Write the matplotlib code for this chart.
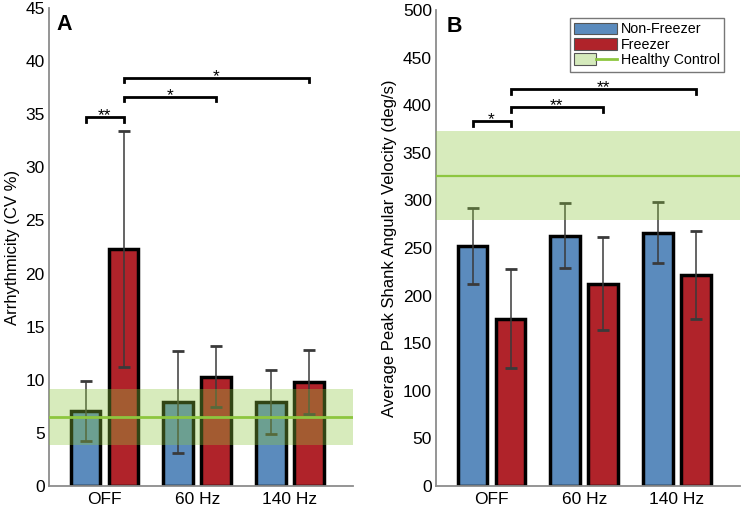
import numpy as np
import matplotlib
matplotlib.use('Agg')
import matplotlib.pyplot as plt
from matplotlib.patches import Patch
from matplotlib.lines import Line2D
from matplotlib.legend_handler import HandlerTuple

plt.rcParams['font.family'] = ['Liberation Sans', 'DejaVu Sans']

conditions = ['OFF', '60 Hz', '140 Hz']

# panel A: arrhythmicity (CV %)
arr_nf = [7.05, 7.9, 7.9]
arr_nf_err = [2.8, 4.8, 3.0]
arr_fr = [22.3, 10.3, 9.8]
arr_fr_err = [11.1, 2.85, 3.05]
arr_hc = 6.5
arr_hc_band = (3.9, 9.1)
arr_sig = [(0, 1, 34.7, '**'), (1, 3, 36.6, '*'), (1, 5, 38.4, '*')]

# panel B: average peak shank angular velocity (deg/s)
vel_nf = [252, 263, 266]
vel_nf_err = [39.5, 34, 32]
vel_fr = [175.5, 212.5, 221.5]
vel_fr_err = [52, 49, 46.5]
vel_hc = 326
vel_hc_band = (279, 373)
vel_sig = [(0, 1, 383, '*'), (1, 3, 398, '**'), (1, 5, 417, '**')]

blue = '#5b8bbd'
red = '#b0232a'
green = '#8dc63f'
spine_col = '#8c8c8c'

fig = plt.figure(figsize=(7.5, 5.08), dpi=100)
axA = fig.add_axes([0.0653, 0.0433, 0.4053, 0.9409])
axB = fig.add_axes([0.5813, 0.0433, 0.4053, 0.9370])

x = np.arange(1, len(conditions) + 1)
off = 0.205
w = 0.32


def panel(ax, nf, nf_err, fr, fr_err, hc, band, sig, ymax, ystep, ylabel,
          letter, letter_x, tick_h, hc_lw):
    ax.bar(x - off, nf, w, color=blue, edgecolor='black', linewidth=2.5, zorder=2)
    ax.bar(x + off, fr, w, color=red, edgecolor='black', linewidth=2.5, zorder=2)
    for xs, m, e in [(x - off, nf, nf_err), (x + off, fr, fr_err)]:
        ax.errorbar(xs, m, yerr=e, fmt='none', ecolor='#3a3a3a', elinewidth=1.1,
                    capsize=4, capthick=2, zorder=3)
    ax.axhspan(band[0], band[1], color=green, alpha=0.35, lw=0, zorder=4)
    ax.axhline(hc, color=green, lw=hc_lw, zorder=5)

    centers = np.ravel(np.column_stack([x - off, x + off]))
    for i, j, yv, s in sig:
        x1, x2 = centers[i], centers[j]
        ax.plot([x1, x1, x2, x2], [yv - tick_h, yv, yv, yv - tick_h],
                color='black', lw=2, solid_joinstyle='miter', zorder=6)
        ax.annotate(s, ((x1 + x2) / 2, yv), xytext=(0, -2), textcoords='offset points',
                    ha='center', va='baseline', fontsize=12.5, zorder=6)

    ax.set_xlim(0.4, 3.68)
    ax.set_ylim(0, ymax)
    ax.set_yticks(np.arange(0, ymax + 1, ystep))
    ax.set_xticks(x)
    ax.set_xticklabels(conditions)
    ax.tick_params(length=0, labelsize=12.5, pad=3)
    ax.tick_params(axis='x', pad=4)
    for sp in ['top', 'right']:
        ax.spines[sp].set_visible(False)
    for sp in ['left', 'bottom']:
        ax.spines[sp].set_color(spine_col)
        ax.spines[sp].set_linewidth(1.3)
    ax.set_ylabel(ylabel, fontsize=12, labelpad=4)
    ax.text(letter_x, 0.987, letter, transform=ax.transAxes, fontsize=15.5,
            fontweight='bold', ha='left', va='top')


panel(axA, arr_nf, arr_nf_err, arr_fr, arr_fr_err, arr_hc, arr_hc_band, arr_sig,
      45, 5, 'Arrhythmicity (CV %)', 'A', 0.024, 0.4, 2)
panel(axB, vel_nf, vel_nf_err, vel_fr, vel_fr_err, vel_hc, vel_hc_band, vel_sig,
      500, 50, 'Average Peak Shank Angular Velocity (deg/s)', 'B', 0.034, 5, 1.6)

handles = [
    Patch(facecolor=blue, edgecolor='#555555', lw=0.8),
    Patch(facecolor=red, edgecolor='#555555', lw=0.8),
    (Patch(facecolor='#d5eabc', edgecolor='#555555', lw=0.8), Line2D([], [], color=green, lw=2)),
]
leg = axB.legend(handles, ['Non-Freezer', 'Freezer', 'Healthy Control'],
                 handler_map={tuple: HandlerTuple(ndivide=None, pad=0)},
                 loc='upper right', bbox_to_anchor=(0.947, 0.983), fontsize=10.3,
                 frameon=True, fancybox=False, handlelength=3.0, handleheight=0.9,
                 handletextpad=0.25, labelspacing=0.1, borderpad=0.3, borderaxespad=0)
leg.get_frame().set_edgecolor('#555555')
leg.get_frame().set_linewidth(1.0)

fig.savefig('out.png', dpi=100)
